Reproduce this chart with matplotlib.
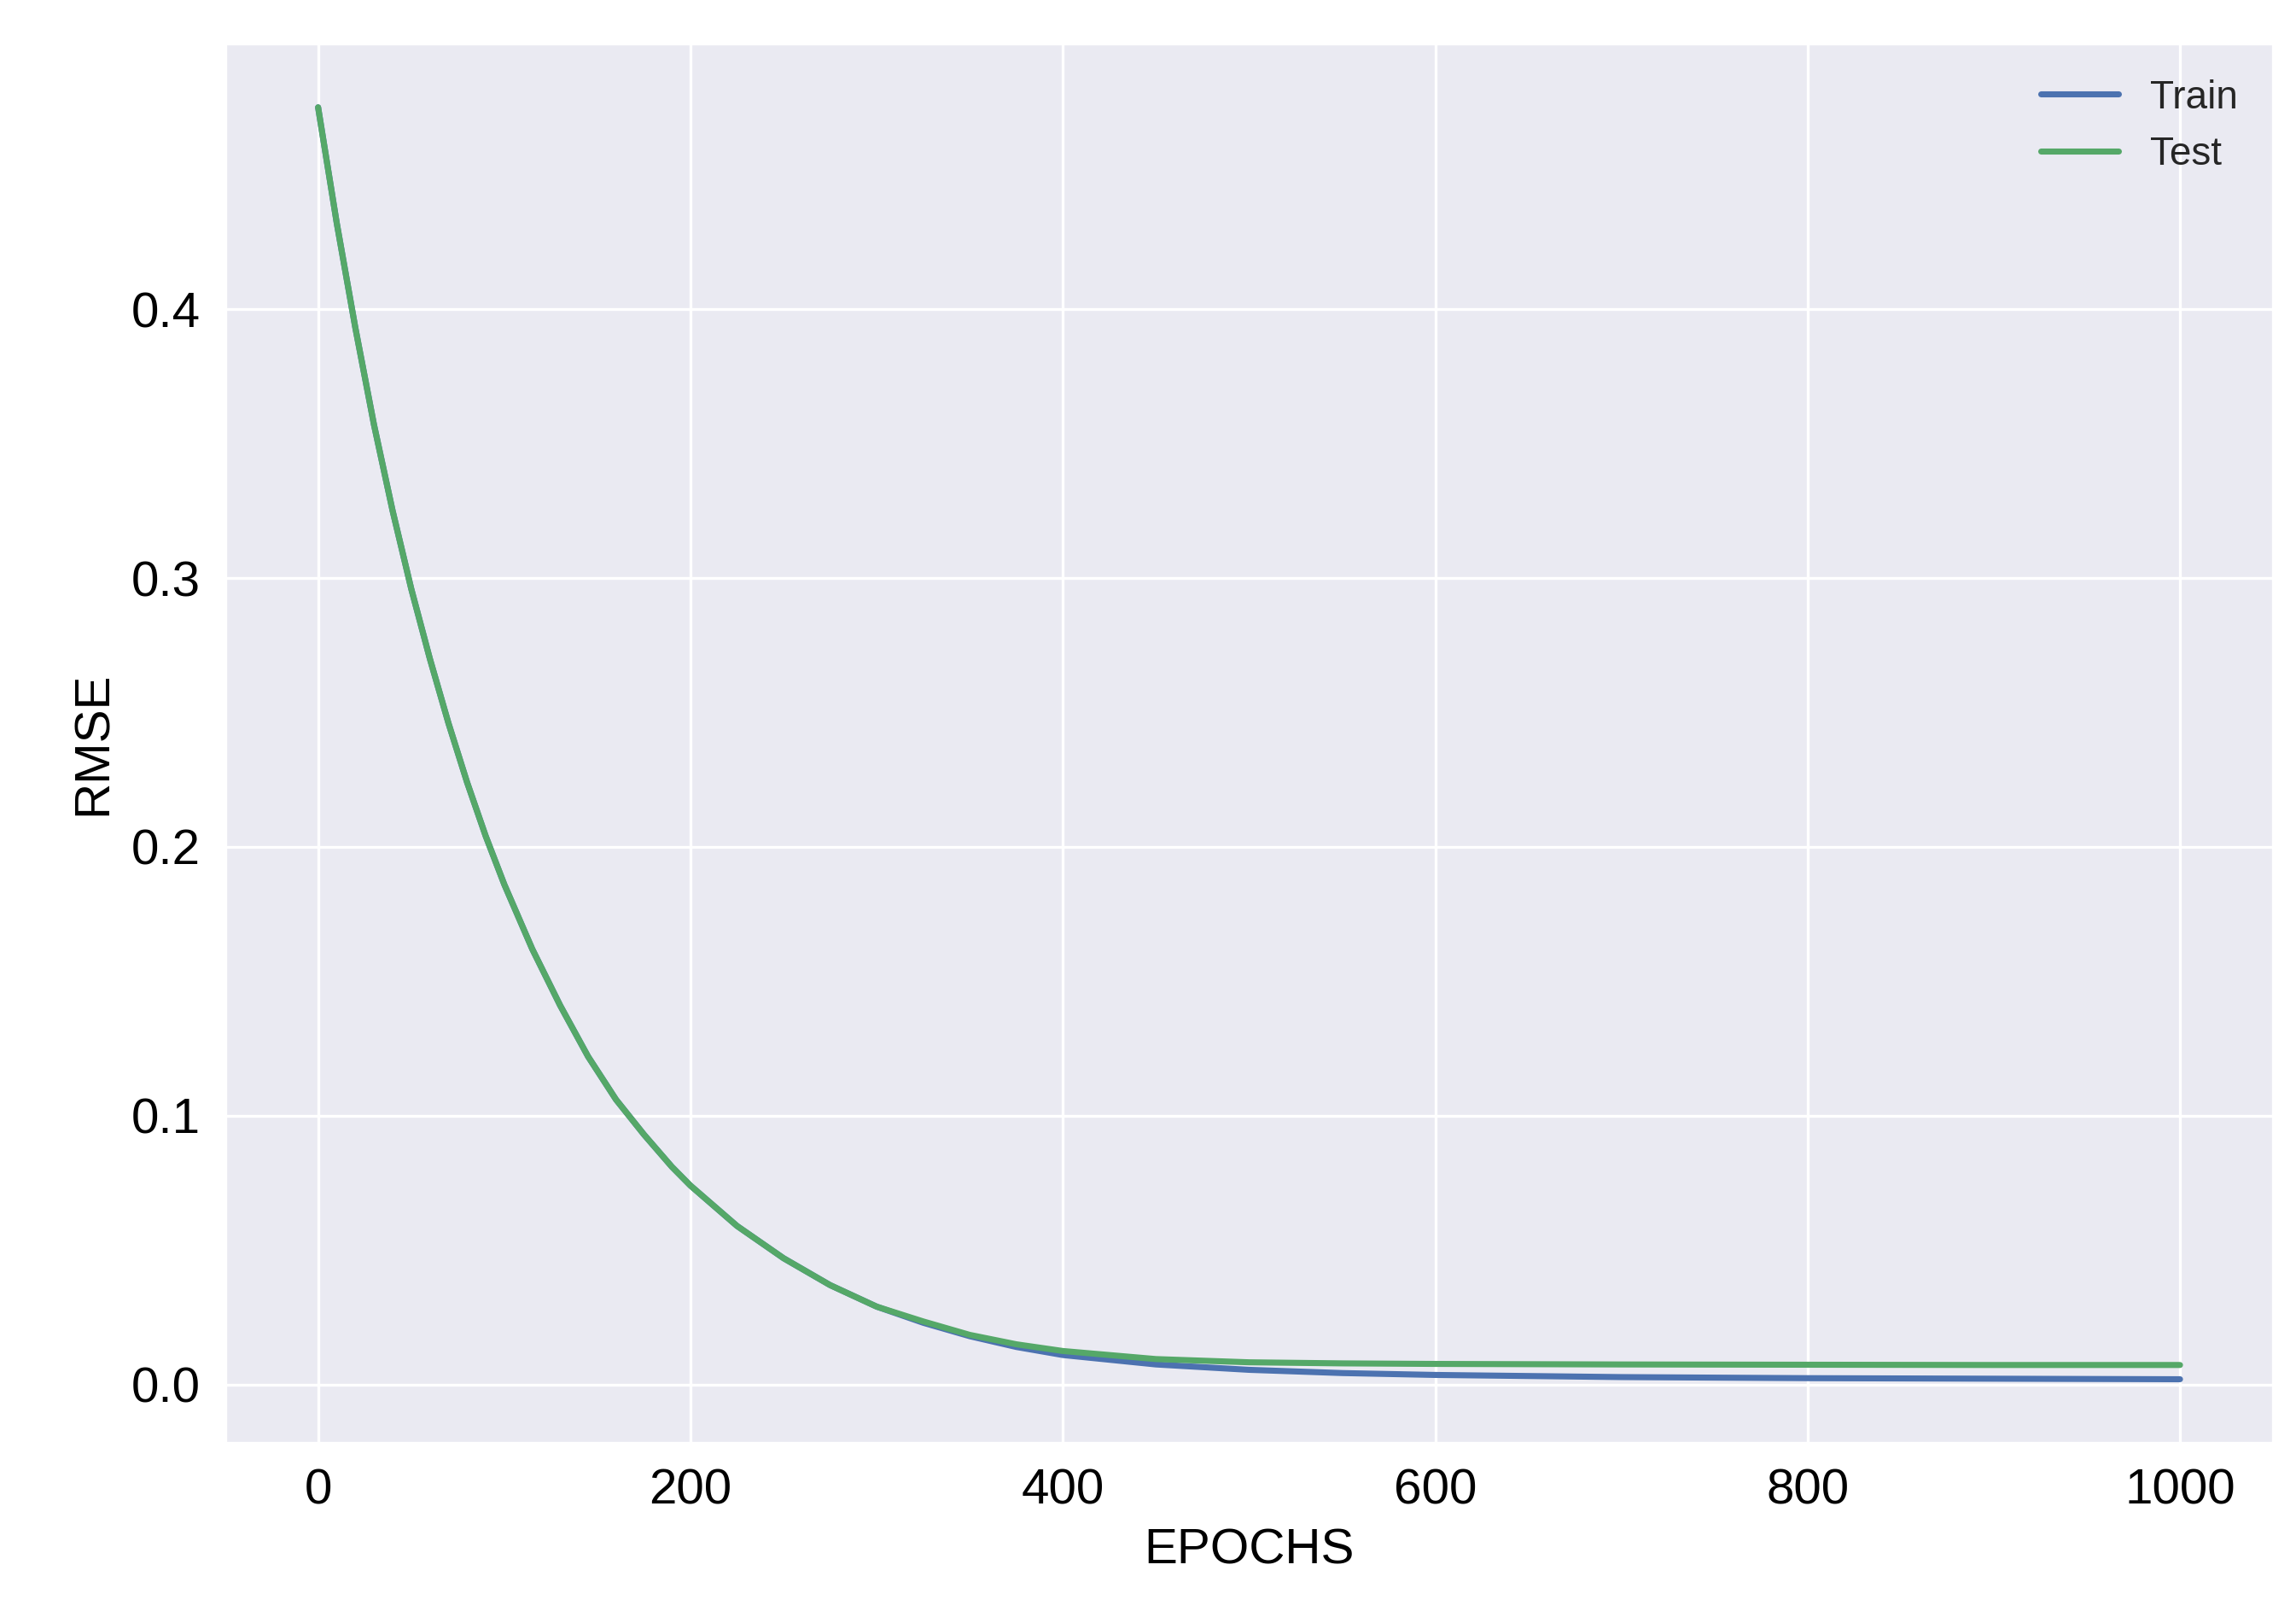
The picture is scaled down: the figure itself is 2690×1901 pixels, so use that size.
import matplotlib
matplotlib.use("Agg")
import matplotlib.pyplot as plt
import seaborn as sns

epochs = [0, 10, 20, 30, 40, 50, 60, 70, 80, 90, 100, 115, 130, 145, 160, 175, 190, 200,
          225, 250, 275, 300, 325, 350, 375, 400, 450, 500, 550, 600, 700, 800, 900, 1000]
train_rmse = [0.475, 0.432, 0.393, 0.357, 0.325, 0.296, 0.270, 0.246, 0.224, 0.204, 0.186,
              0.162, 0.141, 0.122, 0.106, 0.093, 0.081, 0.074, 0.059, 0.047, 0.037, 0.029,
              0.023, 0.018, 0.014, 0.0110, 0.0075, 0.0055, 0.0043, 0.0036, 0.0028, 0.0024,
              0.0022, 0.0020]
test_rmse = [0.475, 0.432, 0.393, 0.357, 0.325, 0.296, 0.270, 0.246, 0.224, 0.204, 0.186,
             0.162, 0.141, 0.122, 0.106, 0.093, 0.081, 0.074, 0.059, 0.047, 0.037, 0.029,
             0.0235, 0.0185, 0.015, 0.0125, 0.0095, 0.0083, 0.0079, 0.0077, 0.0075, 0.0074,
             0.0073, 0.0073]

sns.set_style("darkgrid")
plt.rcParams['font.family'] = ['Liberation Sans', 'DejaVu Sans']

fig, ax = plt.subplots(figsize=(8.967, 6.337), dpi=300)
fig.subplots_adjust(left=0.098, right=0.990, top=0.973, bottom=0.111)

ax.plot(epochs, train_rmse, color='#4C72B0', lw=1.7, label='Train')
ax.plot(epochs, test_rmse, color='#55A868', lw=1.7, label='Test')

ax.set_xlabel('EPOCHS', fontsize=14, color='black')
ax.set_ylabel('RMSE', fontsize=14, color='black')
ax.tick_params(labelsize=14, labelcolor='black')
ax.set_yticks([0.0, 0.1, 0.2, 0.3, 0.4])
ax.legend(loc='upper right', fontsize=11, frameon=False)

fig.savefig('out.png', dpi=300)
